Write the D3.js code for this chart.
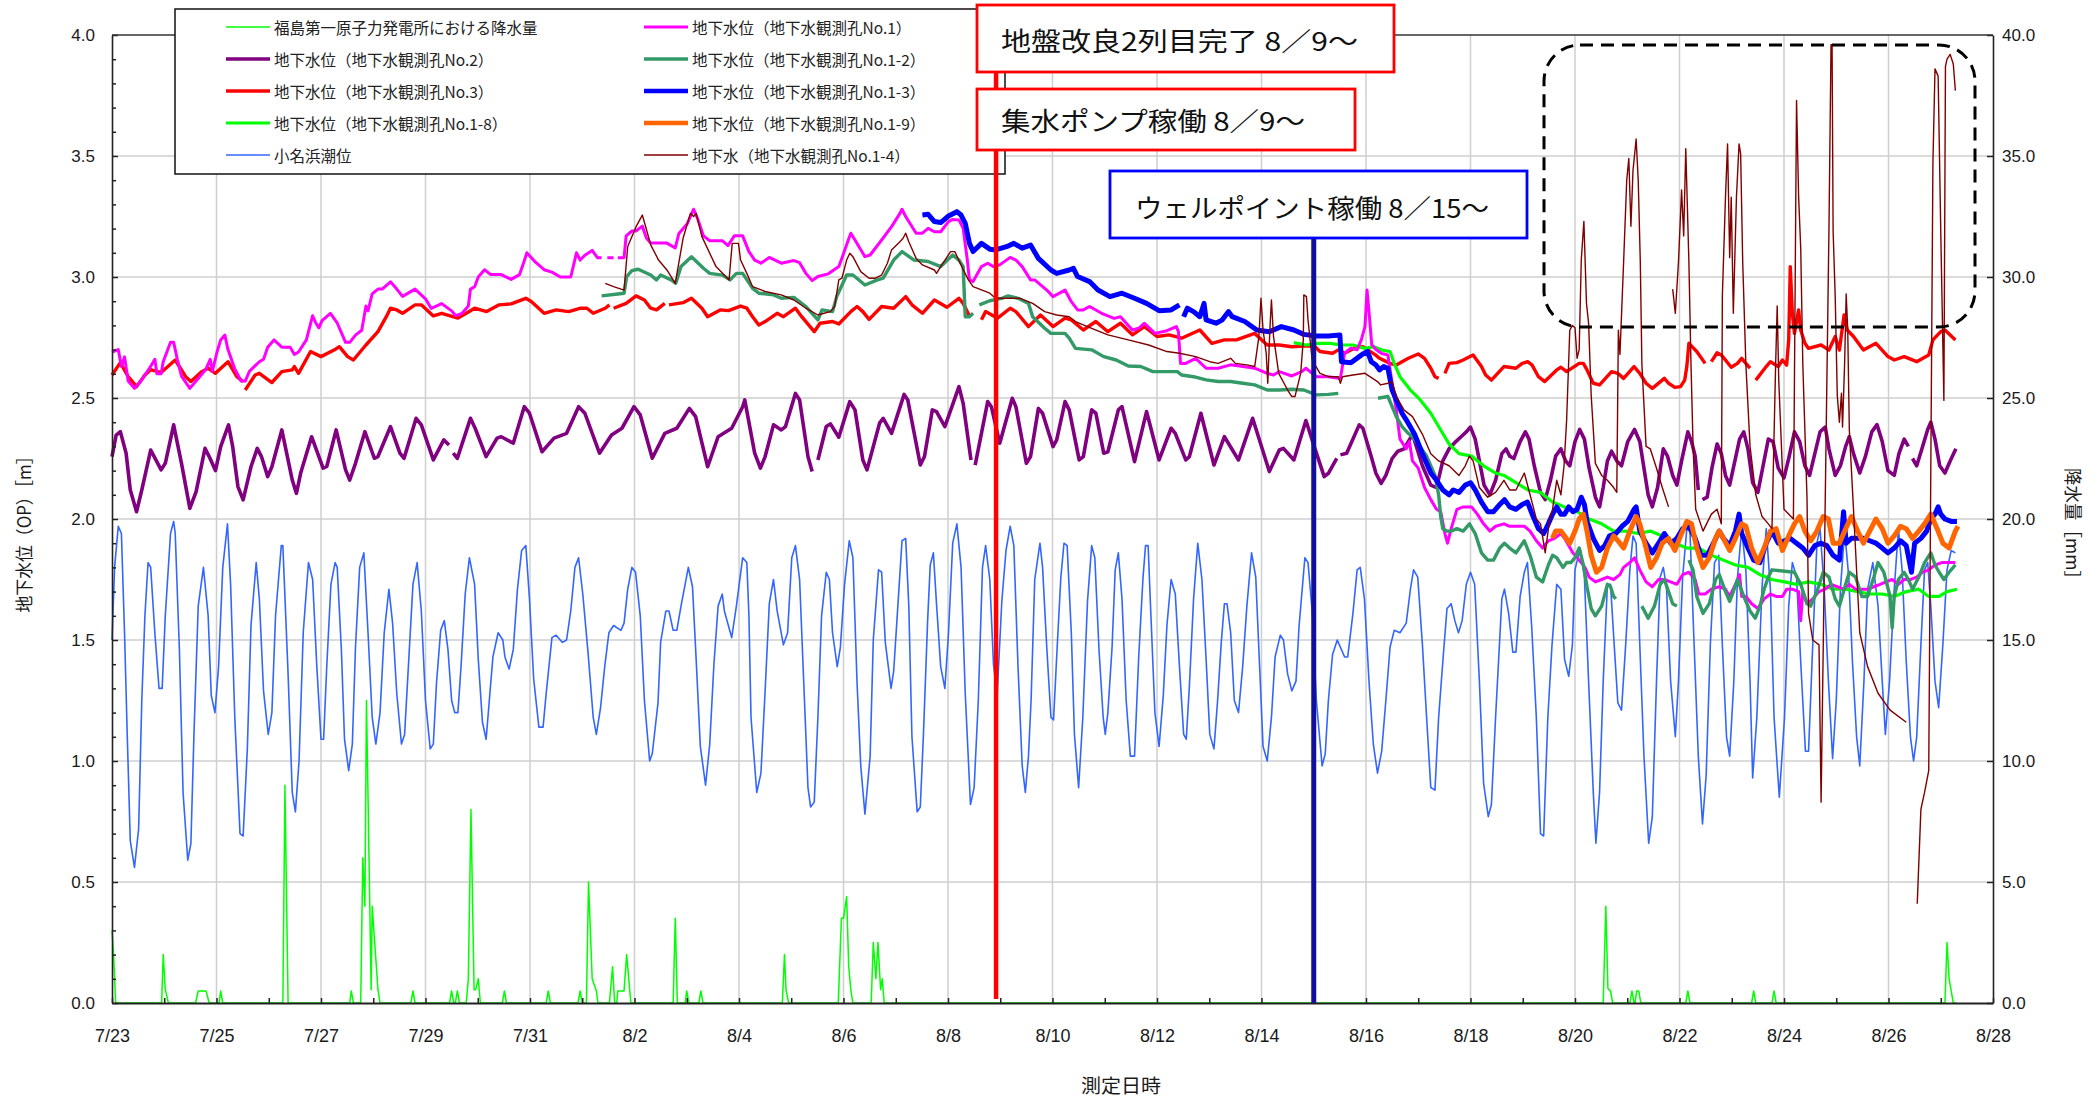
<!DOCTYPE html>
<html><head><meta charset="utf-8">
<script src="https://cdn.jsdelivr.net/npm/d3@7"></script>
<style>body{margin:0;background:#fff;}svg{display:block;}</style>
</head><body>
<svg id="chart" width="2098" height="1097"></svg>
<script>
// ---- categories / ticks ----
const startDay = [2013, 6, 23];
const endDay = [2013, 7, 28];
const xTickLabels = ["7/23","7/25","7/27","7/29","7/31","8/2","8/4","8/6","8/8","8/10","8/12","8/14","8/16","8/18","8/20","8/22","8/24","8/26","8/28"];
const yLeftTicks = [0,0.5,1.0,1.5,2.0,2.5,3.0,3.5,4.0];
const yRightTicks = [0,5,10,15,20,25,30,35,40];
const legendLabels = ["福島第一原子力発電所における降水量","地下水位（地下水観測孔No.2）","地下水位（地下水観測孔No.3）","地下水位（地下水観測孔No.1-8）","小名浜潮位","地下水位（地下水観測孔No.1）","地下水位（地下水観測孔No.1-2）","地下水位（地下水観測孔No.1-3）","地下水位（地下水観測孔No.1-9）","地下水（地下水観測孔No.1-4）"];
const noteTexts = ["地盤改良2列目完了 8／9～","集水ポンプ稼働 8／9～","ウェルポイント稼働 8／15～"];
const noteDays = [16.92, 16.92, 23];
const axisTitles = ["地下水位（OP）［m］","降水量［mm］","測定日時"];

// ---- series values: [days since 7/23 0:00, value] ----
const rainfall = [[0,3.0],[0.03,2.0],[0.07,0],[0.95,0],[0.98,2.0],[1.02,0.55],[1.08,0],[1.60,0],[1.65,0.5],[1.80,0.5],[1.86,0],[2.05,0],[2.08,0.5],[2.12,0],[3.27,0],[3.31,9.0],[3.37,0],[4.55,0],[4.58,0.5],[4.62,0],[4.76,0],[4.80,6.0],[4.84,4.0],[4.87,12.5],[4.96,0.55],[4.98,4.0],[5.09,0.55],[5.13,0],[5.72,0],[5.76,0.5],[5.80,0],[6.46,0],[6.50,0.5],[6.54,0],[6.57,0],[6.61,0.5],[6.65,0],[6.78,0],[6.82,1.0],[6.87,8.0],[6.93,0.55],[6.96,0.55],[7.01,1.0],[7.05,0],[7.47,0],[7.51,0.5],[7.55,0],[8.31,0],[8.35,0.5],[8.39,0],[8.92,0],[8.96,0.5],[9.00,0],[9.08,0],[9.12,5.0],[9.19,1.0],[9.27,0.5],[9.30,0],[9.52,0],[9.58,1.5],[9.62,0],[9.66,0],[9.68,0.5],[9.80,0.5],[9.85,2.0],[9.93,0],[10.74,0],[10.78,3.5],[10.82,0],[10.97,0],[11.0,0.5],[11.04,0],[11.23,0],[11.27,0.5],[11.31,0],[12.83,0],[12.87,2.0],[12.90,0.55],[12.95,0],[13.90,0],[13.96,3.5],[14.0,3.5],[14.06,4.4],[14.10,1.5],[14.14,0.55],[14.18,0],[14.53,0],[14.57,2.5],[14.62,1.0],[14.66,2.5],[14.71,0.55],[14.74,1.0],[14.78,0],[28.54,0],[28.59,4.0],[28.63,0.6],[28.68,0.5],[28.72,0],[29.05,0],[29.09,0.5],[29.13,0],[29.15,0],[29.18,0.5],[29.22,0.5],[29.26,0],[30.12,0],[30.16,0.5],[30.20,0],[31.38,0],[31.42,0.5],[31.46,0],[31.77,0],[31.81,0.5],[31.85,0],[35.08,0],[35.12,2.5],[35.16,1.0],[35.20,0.5],[35.24,0],[35.3,0]];

const tideLevel = [[0,1.50],[0.05,1.80],[0.12,1.97],[0.18,1.94],[0.24,1.53],[0.29,1.12],[0.35,0.67],[0.43,0.56],[0.51,0.72],[0.57,1.25],[0.63,1.60],[0.69,1.82],[0.74,1.80],[0.82,1.53],[0.90,1.30],[0.96,1.30],[1.02,1.60],[1.12,1.94],[1.18,1.99],[1.21,1.94],[1.29,1.46],[1.36,0.87],[1.45,0.59],[1.51,0.66],[1.57,1.12],[1.65,1.64],[1.75,1.80],[1.84,1.60],[1.90,1.27],[1.97,1.20],[2.04,1.39],[2.12,1.80],[2.21,1.98],[2.27,1.73],[2.35,1.18],[2.45,0.70],[2.51,0.69],[2.59,1.05],[2.66,1.56],[2.76,1.82],[2.82,1.67],[2.90,1.29],[2.99,1.11],[3.06,1.20],[3.13,1.60],[3.24,1.89],[3.27,1.89],[3.37,1.36],[3.45,0.87],[3.51,0.79],[3.58,1.00],[3.66,1.53],[3.76,1.82],[3.84,1.75],[3.92,1.39],[4.00,1.09],[4.05,1.09],[4.11,1.39],[4.19,1.73],[4.27,1.82],[4.31,1.80],[4.39,1.46],[4.45,1.09],[4.53,0.96],[4.60,1.07],[4.66,1.47],[4.74,1.80],[4.82,1.86],[4.90,1.53],[4.98,1.18],[5.05,1.07],[5.13,1.20],[5.21,1.53],[5.30,1.71],[5.37,1.57],[5.45,1.28],[5.54,1.07],[5.60,1.11],[5.68,1.42],[5.76,1.73],[5.84,1.82],[5.92,1.62],[6.00,1.25],[6.09,1.05],[6.15,1.07],[6.21,1.32],[6.29,1.54],[6.36,1.58],[6.43,1.46],[6.50,1.25],[6.56,1.20],[6.62,1.20],[6.68,1.39],[6.76,1.69],[6.84,1.84],[6.94,1.73],[7.01,1.42],[7.09,1.16],[7.16,1.09],[7.21,1.22],[7.29,1.43],[7.39,1.53],[7.48,1.50],[7.52,1.43],[7.60,1.38],[7.68,1.46],[7.76,1.71],[7.84,1.87],[7.92,1.89],[7.99,1.67],[8.07,1.34],[8.17,1.14],[8.25,1.14],[8.31,1.28],[8.42,1.51],[8.50,1.52],[8.62,1.49],[8.70,1.50],[8.78,1.62],[8.86,1.80],[8.93,1.84],[9.01,1.69],[9.11,1.45],[9.21,1.18],[9.27,1.11],[9.35,1.22],[9.43,1.39],[9.51,1.53],[9.60,1.56],[9.74,1.54],[9.80,1.57],[9.87,1.71],[9.95,1.80],[10.02,1.78],[10.11,1.60],[10.19,1.25],[10.29,1.00],[10.34,1.03],[10.45,1.24],[10.50,1.49],[10.60,1.62],[10.66,1.62],[10.74,1.54],[10.81,1.54],[10.89,1.64],[11.03,1.80],[11.11,1.72],[11.18,1.42],[11.26,1.06],[11.36,0.90],[11.44,1.07],[11.52,1.40],[11.60,1.64],[11.68,1.69],[11.72,1.62],[11.86,1.51],[11.95,1.64],[12.07,1.84],[12.15,1.82],[12.19,1.60],[12.23,1.18],[12.34,0.87],[12.42,0.95],[12.50,1.29],[12.58,1.65],[12.66,1.75],[12.73,1.62],[12.85,1.48],[12.93,1.53],[13.01,1.84],[13.08,1.89],[13.16,1.75],[13.24,1.32],[13.32,0.89],[13.37,0.81],[13.44,0.83],[13.51,1.18],[13.58,1.60],[13.67,1.78],[13.73,1.75],[13.79,1.53],[13.88,1.39],[13.94,1.47],[14.02,1.73],[14.11,1.91],[14.18,1.84],[14.26,1.32],[14.33,0.98],[14.41,0.78],[14.51,1.02],[14.57,1.50],[14.67,1.79],[14.73,1.78],[14.80,1.49],[14.91,1.30],[14.96,1.37],[15.04,1.64],[15.12,1.91],[15.19,1.92],[15.25,1.64],[15.31,1.10],[15.41,0.79],[15.47,0.81],[15.53,1.11],[15.61,1.58],[15.66,1.81],[15.72,1.86],[15.78,1.65],[15.86,1.39],[15.94,1.30],[16.01,1.53],[16.09,1.90],[16.17,1.98],[16.25,1.80],[16.33,1.28],[16.43,0.82],[16.50,0.89],[16.58,1.25],[16.66,1.80],[16.72,1.89],[16.80,1.75],[16.87,1.40],[16.94,1.27],[17.03,1.66],[17.11,1.87],[17.19,1.97],[17.26,1.89],[17.34,1.39],[17.42,0.98],[17.48,0.87],[17.54,1.02],[17.59,1.25],[17.66,1.75],[17.76,1.90],[17.81,1.80],[17.89,1.47],[17.97,1.18],[18.02,1.17],[18.08,1.43],[18.16,1.76],[18.22,1.90],[18.28,1.89],[18.36,1.53],[18.42,1.11],[18.50,0.89],[18.58,1.18],[18.67,1.66],[18.75,1.89],[18.81,1.84],[18.89,1.46],[18.97,1.18],[19.01,1.11],[19.06,1.20],[19.14,1.47],[19.20,1.79],[19.26,1.86],[19.33,1.67],[19.41,1.25],[19.49,1.02],[19.57,1.02],[19.65,1.43],[19.73,1.75],[19.78,1.89],[19.83,1.89],[19.88,1.62],[19.96,1.20],[20.04,1.06],[20.12,1.27],[20.19,1.56],[20.27,1.75],[20.35,1.69],[20.43,1.39],[20.51,1.11],[20.56,1.09],[20.62,1.31],[20.70,1.67],[20.78,1.90],[20.86,1.75],[20.94,1.42],[21.01,1.11],[21.09,1.05],[21.16,1.25],[21.23,1.49],[21.29,1.65],[21.34,1.65],[21.41,1.53],[21.48,1.25],[21.56,1.20],[21.64,1.39],[21.72,1.64],[21.81,1.86],[21.89,1.76],[21.95,1.46],[22.03,1.06],[22.11,1.00],[22.19,1.18],[22.26,1.43],[22.36,1.52],[22.42,1.50],[22.50,1.36],[22.58,1.29],[22.66,1.33],[22.72,1.56],[22.83,1.84],[22.89,1.82],[22.97,1.62],[23.05,1.25],[23.16,0.98],[23.22,1.03],[23.28,1.25],[23.36,1.44],[23.45,1.50],[23.59,1.43],[23.65,1.43],[23.75,1.61],[23.83,1.79],[23.89,1.80],[23.97,1.67],[24.06,1.32],[24.14,1.07],[24.22,0.95],[24.30,1.04],[24.38,1.25],[24.46,1.47],[24.54,1.54],[24.65,1.53],[24.77,1.57],[24.85,1.71],[24.91,1.79],[24.99,1.76],[25.08,1.48],[25.16,1.18],[25.24,0.89],[25.32,0.88],[25.39,1.18],[25.47,1.41],[25.55,1.63],[25.63,1.65],[25.70,1.58],[25.77,1.53],[25.84,1.58],[25.92,1.73],[26.00,1.78],[26.08,1.73],[26.17,1.33],[26.25,0.91],[26.34,0.77],[26.40,0.82],[26.48,1.18],[26.60,1.67],[26.65,1.71],[26.73,1.61],[26.81,1.45],[26.87,1.45],[26.95,1.68],[27.03,1.78],[27.09,1.82],[27.17,1.56],[27.26,1.18],[27.34,0.70],[27.40,0.69],[27.48,1.18],[27.56,1.48],[27.65,1.73],[27.73,1.71],[27.80,1.42],[27.88,1.35],[27.95,1.48],[28.00,1.79],[28.10,1.88],[28.18,1.76],[28.26,1.33],[28.35,0.87],[28.40,0.66],[28.47,0.87],[28.54,1.33],[28.62,1.73],[28.68,1.73],[28.75,1.48],[28.82,1.24],[28.89,1.21],[28.97,1.48],[29.05,1.79],[29.11,1.93],[29.17,1.90],[29.24,1.48],[29.32,1.02],[29.41,0.66],[29.48,0.77],[29.56,1.33],[29.63,1.76],[29.69,1.80],[29.75,1.72],[29.83,1.33],[29.92,1.10],[29.98,1.33],[30.06,1.76],[30.14,1.96],[30.20,1.95],[30.28,1.48],[30.36,1.02],[30.44,0.74],[30.51,0.94],[30.59,1.48],[30.67,1.82],[30.75,1.85],[30.82,1.48],[30.90,1.10],[30.96,1.02],[31.04,1.33],[31.11,1.76],[31.19,1.96],[31.27,1.79],[31.35,1.33],[31.40,0.93],[31.48,1.18],[31.58,1.72],[31.66,1.96],[31.74,1.71],[31.81,1.18],[31.91,0.85],[32.01,1.18],[32.09,1.64],[32.16,1.82],[32.24,1.76],[32.32,1.41],[32.41,1.04],[32.47,1.04],[32.55,1.48],[32.63,1.90],[32.69,1.96],[32.77,1.71],[32.85,1.33],[32.93,1.01],[33.00,1.25],[33.08,1.71],[33.16,1.95],[33.24,1.76],[33.31,1.41],[33.39,1.10],[33.45,0.98],[33.53,1.33],[33.60,1.71],[33.70,1.82],[33.80,1.64],[33.88,1.33],[33.94,1.11],[34.02,1.33],[34.11,1.71],[34.19,1.96],[34.26,1.79],[34.34,1.41],[34.42,1.10],[34.48,1.00],[34.54,1.10],[34.62,1.48],[34.69,1.79],[34.75,1.82],[34.81,1.64],[34.89,1.33],[34.96,1.22],[35.04,1.48],[35.12,1.79],[35.20,1.87],[35.28,1.86]];

const wellNo2 = [[0,2.258],[0.08,2.347],[0.16,2.361],[0.27,2.272],[0.35,2.12],[0.47,2.03],[0.57,2.12],[0.67,2.216],[0.74,2.285],[0.84,2.244],[0.94,2.203],[1.02,2.23],[1.18,2.389],[1.33,2.23],[1.49,2.044],[1.61,2.113],[1.78,2.292],[1.86,2.258],[1.98,2.2],[2.08,2.299],[2.23,2.389],[2.31,2.299],[2.41,2.134],[2.51,2.079],[2.66,2.216],[2.78,2.292],[2.86,2.258],[2.98,2.175],[3.06,2.216],[3.25,2.368],[3.45,2.161],[3.53,2.106],[3.61,2.189],[3.82,2.34],[4.04,2.21],[4.11,2.217],[4.29,2.368],[4.47,2.203],[4.55,2.161],[4.66,2.23],[4.84,2.361],[5.02,2.251],[5.09,2.258],[5.33,2.382],[5.51,2.272],[5.59,2.251],[5.82,2.416],[5.92,2.389],[6.15,2.244],[6.35,2.327],[6.45,2.306],[6.49,null],[6.53,2.272],[6.61,2.251],[6.86,2.416],[6.95,2.375],[7.16,2.258],[7.37,2.334],[7.45,2.34],[7.68,2.313],[7.89,2.464],[7.99,2.437],[8.23,2.278],[8.46,2.334],[8.70,2.354],[8.93,2.464],[9.05,2.437],[9.33,2.272],[9.56,2.347],[9.76,2.375],[9.99,2.464],[10.11,2.43],[10.34,2.251],[10.58,2.354],[10.81,2.375],[11.05,2.457],[11.17,2.423],[11.40,2.216],[11.60,2.34],[11.86,2.375],[12.07,2.464],[12.11,2.492],[12.30,2.272],[12.41,2.21],[12.50,2.258],[12.66,2.389],[12.81,2.368],[12.89,2.382],[13.08,2.519],[13.16,2.492],[13.32,2.258],[13.40,2.196],[13.45,null],[13.51,2.244],[13.67,2.382],[13.75,2.393],[13.91,2.338],[14.12,2.485],[14.22,2.451],[14.37,2.244],[14.45,2.203],[14.69,2.396],[14.76,2.416],[14.92,2.354],[15.16,2.515],[15.23,2.492],[15.47,2.223],[15.55,2.258],[15.70,2.451],[15.78,2.444],[15.94,2.382],[16.21,2.547],[16.29,2.478],[16.44,2.244],[16.48,null],[16.52,2.223],[16.76,2.485],[16.83,2.464],[16.99,2.313],[17.23,2.499],[17.30,2.464],[17.50,2.23],[17.58,2.258],[17.73,2.457],[17.81,2.437],[18.01,2.299],[18.08,2.327],[18.24,2.485],[18.32,2.451],[18.51,2.244],[18.59,2.258],[18.75,2.451],[18.83,2.437],[18.98,2.272],[19.06,2.278],[19.26,2.451],[19.33,2.464],[19.57,2.237],[19.80,2.444],[20.04,2.244],[20.27,2.375],[20.35,2.354],[20.55,2.244],[20.62,2.258],[20.84,2.437],[21.09,2.223],[21.29,2.34],[21.56,2.244],[21.83,2.416],[22.15,2.196],[22.34,2.285],[22.42,2.292],[22.62,2.244],[22.85,2.407],[23.01,2.299],[23.20,2.175],[23.28,2.189],[23.44,2.251],[23.48,null],[23.51,2.265],[23.63,2.272],[23.87,2.389],[23.94,2.375],[24.10,2.258],[24.19,2.189],[24.29,2.147],[24.38,2.18],[24.50,2.25],[24.61,2.28],[24.73,2.29],[24.81,2.32],[24.89,2.35],[25.08,2.22],[25.24,2.14],[25.35,2.13],[25.47,2.24],[25.59,2.29],[25.72,2.32],[25.82,2.34],[25.92,2.36],[26.00,2.38],[26.09,2.33],[26.17,2.24],[26.26,2.14],[26.37,2.10],[26.48,2.16],[26.60,2.27],[26.68,2.29],[26.75,2.26],[26.83,2.25],[26.95,2.32],[27.05,2.36],[27.12,2.33],[27.22,2.22],[27.34,2.11],[27.43,2.08],[27.53,2.16],[27.63,2.26],[27.73,2.29],[27.82,2.24],[27.90,2.22],[28.00,2.32],[28.09,2.37],[28.18,2.33],[28.27,2.21],[28.39,2.09],[28.47,2.05],[28.54,2.13],[28.62,2.24],[28.70,2.28],[28.80,2.24],[28.89,2.22],[29.01,2.32],[29.14,2.37],[29.24,2.32],[29.32,2.21],[29.40,2.10],[29.48,2.05],[29.58,2.13],[29.69,2.29],[29.77,2.26],[29.87,2.18],[29.95,2.14],[30.04,2.24],[30.16,2.36],[30.23,2.32],[30.30,2.26],[30.36,2.12],[30.40,null],[30.44,2.08],[30.53,2.09],[30.62,2.21],[30.72,2.31],[30.80,2.27],[30.88,2.18],[30.96,2.14],[31.06,2.24],[31.15,2.33],[31.23,2.36],[31.31,2.29],[31.40,2.15],[31.50,2.11],[31.60,2.22],[31.70,2.33],[31.79,2.32],[31.89,2.21],[32.00,2.17],[32.09,2.25],[32.20,2.36],[32.30,2.32],[32.40,2.22],[32.49,2.18],[32.59,2.27],[32.69,2.36],[32.79,2.38],[32.86,2.29],[32.98,2.18],[33.08,2.22],[33.18,2.30],[33.25,2.34],[33.33,2.27],[33.45,2.19],[33.56,2.26],[33.68,2.36],[33.78,2.39],[33.88,2.32],[33.99,2.20],[34.11,2.18],[34.20,2.27],[34.30,2.33],[34.38,2.30],[34.42,null],[34.46,2.25],[34.54,2.22],[34.64,2.29],[34.75,2.37],[34.81,2.40],[34.89,2.33],[34.98,2.22],[35.08,2.19],[35.18,2.24],[35.29,2.29]];

const wellNo3 = [[0,2.595],[0.16,2.646],[0.31,2.588],[0.47,2.547],[0.63,2.595],[0.74,2.617],[0.94,2.605],[1.21,2.657],[1.41,2.588],[1.51,2.568],[1.72,2.609],[1.84,2.623],[1.98,2.602],[2.22,2.65],[2.39,2.588],[2.51,2.568],[2.53,null],[2.55,2.533],[2.74,2.595],[2.82,2.602],[3.06,2.564],[3.25,2.609],[3.45,2.616],[3.49,2.63],[3.57,2.602],[3.80,2.692],[4.00,2.671],[4.26,2.699],[4.35,2.712],[4.51,2.671],[4.62,2.657],[4.86,2.719],[5.09,2.774],[5.25,2.836],[5.33,2.871],[5.45,2.864],[5.56,2.85],[5.80,2.885],[5.92,2.885],[6.15,2.839],[6.31,2.85],[6.62,2.83],[6.78,2.85],[6.94,2.871],[7.17,2.857],[7.41,2.885],[7.64,2.889],[7.92,2.912],[8.03,2.898],[8.27,2.85],[8.50,2.864],[8.74,2.857],[8.97,2.871],[9.09,2.871],[9.21,2.85],[9.44,2.871],[9.52,2.885],[9.56,null],[9.60,2.871],[9.84,2.891],[10.03,2.922],[10.19,2.905],[10.31,2.871],[10.42,2.864],[10.58,2.891],[10.62,null],[10.66,2.885],[10.93,2.894],[11.09,2.912],[11.29,2.871],[11.40,2.836],[11.64,2.864],[11.80,2.861],[12.03,2.88],[12.15,2.871],[12.26,2.836],[12.38,2.802],[12.50,2.816],[12.73,2.85],[12.85,2.836],[13.08,2.871],[13.20,2.836],[13.44,2.774],[13.55,2.809],[13.79,2.816],[13.91,2.806],[14.14,2.857],[14.26,2.878],[14.37,2.857],[14.49,2.825],[14.73,2.878],[14.96,2.871],[15.19,2.919],[15.31,2.885],[15.51,2.85],[15.74,2.905],[15.98,2.875],[16.21,2.912],[16.29,2.891],[16.41,2.839],[16.5,null],[16.64,2.823],[16.72,2.857],[16.95,2.83],[17.19,2.871],[17.30,2.857],[17.54,2.795],[17.77,2.843],[18.01,2.795],[18.24,2.83],[18.36,2.823],[18.59,2.781],[18.83,2.816],[19.06,2.774],[19.30,2.809],[19.53,2.761],[19.76,2.795],[20.00,2.754],[20.23,2.761],[20.47,2.747],[20.82,2.781],[21.05,2.726],[21.29,2.74],[21.52,2.74],[21.87,2.767],[22.11,2.719],[22.34,2.719],[22.58,2.712],[22.81,2.715],[23.01,2.715],[23.12,2.692],[23.36,2.685],[23.47,2.699],[23.59,2.685],[23.83,2.712],[23.94,2.712],[24.18,2.678],[24.26,2.664],[24.46,2.643],[24.58,2.636],[24.81,2.664],[25.00,2.682],[25.12,2.664],[25.24,2.623],[25.32,2.588],[25.39,2.581],[25.45,null],[25.51,2.602],[25.59,2.643],[25.74,2.646],[25.86,2.657],[26.05,2.678],[26.21,2.63],[26.29,2.595],[26.40,2.574],[26.64,2.63],[26.87,2.623],[26.99,2.643],[27.10,2.65],[27.18,2.636],[27.30,2.588],[27.42,2.568],[27.65,2.616],[27.73,2.627],[27.84,2.609],[28.08,2.643],[28.16,2.643],[28.23,2.616],[28.35,2.561],[28.47,2.554],[28.70,2.609],[28.82,2.602],[28.93,2.581],[29.13,2.63],[29.24,2.602],[29.36,2.561],[29.48,2.54],[29.71,2.581],[29.79,2.561],[29.91,2.544],[30.02,2.547],[30.10,2.574],[30.14,2.63],[30.18,2.726],[30.33,2.692],[30.49,2.643],[30.55,null],[30.61,2.65],[30.72,2.687],[30.80,2.678],[30.99,2.627],[31.11,2.643],[31.19,2.664],[31.27,2.643],[31.35,2.623],[31.40,null],[31.46,2.574],[31.66,2.63],[31.74,2.65],[31.89,2.63],[31.97,2.657],[32.05,2.636],[32.09,2.74],[32.12,3.043],[32.16,2.85],[32.20,2.767],[32.28,2.864],[32.32,2.781],[32.40,2.726],[32.47,2.705],[32.71,2.719],[32.86,2.698],[32.98,2.754],[33.06,2.698],[33.15,2.843],[33.21,2.781],[33.33,2.754],[33.52,2.698],[33.76,2.726],[33.99,2.671],[34.11,2.657],[34.30,2.671],[34.54,2.65],[34.77,2.678],[34.85,2.74],[35.00,2.774],[35.08,2.781],[35.28,2.74]];

const wellNo1_8 = [[22.62,2.729],[22.85,2.719],[23.09,2.726],[23.32,2.726],[23.51,2.719],[23.75,2.719],[23.98,2.705],[24.15,2.712],[24.30,2.698],[24.46,2.692],[24.54,2.643],[24.65,2.588],[24.85,2.533],[25.04,2.492],[25.24,2.437],[25.43,2.368],[25.59,2.31],[25.78,2.27],[26.02,2.26],[26.25,2.22],[26.48,2.19],[26.64,2.18],[26.87,2.15],[27.10,2.12],[27.34,2.11],[27.57,2.07],[27.80,2.05],[28.04,2.03],[28.27,2.00],[28.51,1.98],[28.74,1.95],[28.97,1.95],[29.21,1.94],[29.44,1.95],[29.67,1.93],[29.91,1.90],[30.14,1.88],[30.37,1.88],[30.61,1.85],[30.84,1.83],[31.07,1.81],[31.31,1.80],[31.54,1.77],[31.77,1.75],[32.01,1.74],[32.24,1.73],[32.47,1.74],[32.71,1.73],[32.94,1.71],[33.18,1.71],[33.41,1.70],[33.64,1.69],[33.88,1.69],[34.11,1.68],[34.34,1.70],[34.58,1.71],[34.77,1.68],[34.97,1.68],[35.12,1.70],[35.31,1.71]];

const wellNo1 = [[0,2.69],[0.12,2.70],[0.18,2.63],[0.24,2.67],[0.31,2.57],[0.43,2.54],[0.55,2.57],[0.71,2.62],[0.82,2.66],[0.86,2.60],[0.94,2.60],[0.98,2.65],[1.12,2.73],[1.18,2.73],[1.25,2.66],[1.33,2.59],[1.49,2.54],[1.65,2.58],[1.80,2.62],[1.88,2.66],[1.92,2.61],[2.01,2.69],[2.08,2.74],[2.16,2.76],[2.22,2.70],[2.35,2.62],[2.47,2.57],[2.55,2.57],[2.63,2.61],[2.82,2.65],[2.90,2.66],[2.98,2.71],[3.10,2.74],[3.25,2.71],[3.41,2.71],[3.49,2.68],[3.57,2.69],[3.72,2.74],[3.84,2.84],[3.90,2.81],[3.96,2.79],[4.02,2.82],[4.18,2.85],[4.31,2.81],[4.47,2.73],[4.55,2.73],[4.66,2.76],[4.78,2.78],[4.86,2.88],[4.90,2.86],[4.98,2.93],[5.09,2.95],[5.17,2.95],[5.33,2.98],[5.45,2.95],[5.56,2.92],[5.80,2.95],[6.00,2.91],[6.11,2.87],[6.31,2.89],[6.50,2.86],[6.58,2.84],[6.70,2.85],[6.82,2.88],[6.86,2.95],[6.94,2.96],[7.01,3.00],[7.13,3.03],[7.25,3.01],[7.45,3.01],[7.64,2.99],[7.80,3.01],[7.88,3.06],[7.94,3.10],[8.11,3.06],[8.27,3.03],[8.42,3.02],[8.58,3.00],[8.78,3.00],[8.89,3.10],[8.96,3.07],[9.05,3.09],[9.19,3.11],[9.29,3.08],[9.37,3.08],[9.42,null],[9.48,3.08],[9.60,3.08],[9.64,null],[9.68,3.08],[9.80,3.08],[9.84,3.17],[9.95,3.19],[10.03,3.19],[10.15,3.21],[10.23,3.16],[10.31,3.14],[10.62,3.14],[10.78,3.12],[10.85,3.18],[11.01,3.22],[11.13,3.28],[11.21,3.24],[11.32,3.17],[11.44,3.15],[11.68,3.15],[11.79,3.13],[11.91,3.17],[12.07,3.17],[12.19,3.105],[12.30,3.07],[12.42,3.057],[12.58,3.081],[12.81,3.057],[13.05,3.068],[13.16,3.059],[13.28,3.015],[13.40,2.985],[13.51,3.002],[13.71,3.013],[13.91,3.043],[13.98,3.084],[14.08,3.146],[14.14,3.181],[14.22,3.153],[14.41,3.084],[14.51,3.091],[14.73,3.153],[14.92,3.208],[15.08,3.263],[15.12,3.28],[15.19,3.25],[15.39,3.181],[15.51,3.181],[15.62,3.201],[15.74,3.187],[15.86,3.187],[16.01,3.229],[16.09,3.238],[16.21,3.236],[16.29,3.201],[16.37,3.07],[16.41,2.988],[16.48,2.981],[16.64,3.043],[16.76,3.057],[16.87,3.043],[16.99,3.05],[17.19,3.081],[17.30,3.07],[17.42,3.043],[17.58,2.988],[17.66,2.988],[17.89,2.946],[18.01,2.919],[18.24,2.946],[18.36,2.898],[18.48,2.864],[18.59,2.864],[18.71,2.878],[18.94,2.85],[19.18,2.829],[19.30,2.836],[19.53,2.781],[19.65,2.788],[19.76,2.809],[19.96,2.767],[20.19,2.778],[20.37,2.795],[20.41,2.774],[20.45,2.643],[20.55,2.643],[20.74,2.664],[20.94,2.623],[21.17,2.623],[21.41,2.637],[21.64,2.63],[21.87,2.623],[22.11,2.602],[22.23,2.595],[22.34,2.609],[22.58,2.591],[22.77,2.609],[22.85,2.623],[23.05,2.588],[23.28,2.588],[23.51,2.581],[23.59,2.685],[23.71,2.706],[23.83,2.699],[23.91,2.74],[23.98,2.795],[24.02,2.946],[24.06,2.85],[24.11,2.72],[24.19,2.70],[24.30,2.684],[24.42,2.678],[24.50,2.56],[24.58,2.45],[24.65,2.33],[24.77,2.29],[24.83,2.32],[24.89,2.24],[25.0,2.21],[25.12,2.13],[25.24,2.08],[25.35,2.04],[25.43,2.03],[25.51,1.94],[25.56,1.90],[25.63,1.96],[25.74,2.04],[25.86,2.05],[26.02,2.05],[26.13,2.02],[26.25,1.98],[26.37,1.95],[26.48,1.97],[26.64,1.98],[26.75,1.97],[26.87,1.97],[27.03,1.97],[27.14,1.95],[27.26,1.91],[27.38,1.88],[27.49,1.91],[27.61,1.92],[27.73,1.94],[27.80,1.92],[27.88,1.89],[27.96,1.86],[28.08,1.83],[28.19,1.80],[28.27,1.76],[28.39,1.74],[28.51,1.75],[28.62,1.76],[28.74,1.75],[28.86,1.77],[28.93,1.80],[29.05,1.82],[29.14,1.84],[29.24,1.79],[29.36,1.74],[29.48,1.72],[29.60,1.75],[29.71,1.75],[29.83,1.74],[29.95,1.73],[30.06,1.77],[30.18,1.78],[30.30,1.75],[30.37,1.69],[30.49,1.69],[30.61,1.71],[30.76,1.72],[30.88,1.71],[30.96,1.68],[31.07,1.73],[31.15,1.77],[31.19,1.68],[31.27,1.68],[31.38,1.65],[31.50,1.63],[31.62,1.67],[31.74,1.69],[31.85,1.68],[31.97,1.68],[32.05,1.71],[32.16,1.71],[32.28,1.70],[32.32,1.58],[32.36,1.70],[32.44,1.65],[32.55,1.67],[32.67,1.70],[32.79,1.71],[32.90,1.73],[33.02,1.72],[33.14,1.71],[33.25,1.73],[33.37,1.71],[33.49,1.71],[33.60,1.71],[33.72,1.72],[33.84,1.73],[33.95,1.74],[34.07,1.75],[34.19,1.73],[34.30,1.75],[34.42,1.75],[34.54,1.76],[34.65,1.78],[34.77,1.79],[34.89,1.81],[35.02,1.82],[35.12,1.82],[35.28,1.82]];

const wellNo1_2 = [[9.37,2.922],[9.68,2.93],[9.80,2.933],[9.85,3.002],[9.95,3.026],[10.07,3.032],[10.31,3.008],[10.42,2.988],[10.50,3.008],[10.70,2.988],[10.79,2.974],[10.89,3.043],[11.09,3.084],[11.32,3.036],[11.44,3.015],[11.68,3.008],[11.83,2.988],[11.95,3.015],[12.07,3.015],[12.26,2.953],[12.38,2.933],[12.66,2.926],[12.81,2.912],[13.05,2.916],[13.28,2.878],[13.51,2.823],[13.59,2.864],[13.79,2.857],[13.87,2.919],[14.06,3.008],[14.18,3.008],[14.41,2.967],[14.65,2.988],[14.76,2.995],[14.96,3.07],[15.12,3.105],[15.35,3.07],[15.62,3.064],[15.86,3.043],[16.09,3.091],[16.21,3.07],[16.29,3.043],[16.33,2.836],[16.41,2.836],[16.48,2.85],[16.54,null],[16.60,2.885],[16.80,2.902],[17.03,2.912],[17.15,2.922],[17.34,2.912],[17.54,2.891],[17.62,2.836],[17.85,2.788],[17.97,2.767],[18.24,2.767],[18.32,2.747],[18.44,2.705],[18.75,2.699],[18.98,2.671],[19.22,2.657],[19.45,2.632],[19.69,2.63],[19.92,2.609],[20.39,2.609],[20.47,2.595],[20.70,2.588],[20.94,2.575],[21.17,2.568],[21.41,2.568],[21.64,2.561],[21.87,2.554],[22.11,2.533],[22.34,2.533],[22.58,2.536],[22.81,2.533],[23.05,2.513],[23.28,2.515],[23.47,2.519],[23.8,null],[24.23,2.499],[24.42,2.506],[24.50,2.464],[24.58,2.423],[24.69,2.382],[24.81,2.354],[24.89,2.34],[24.96,2.32],[25.16,2.26],[25.32,2.18],[25.39,2.10],[25.43,2.01],[25.47,1.96],[25.55,1.95],[25.63,1.95],[25.74,1.96],[25.86,1.95],[25.98,1.98],[26.09,1.94],[26.21,1.86],[26.33,1.83],[26.44,1.83],[26.56,1.88],[26.65,1.90],[26.75,1.88],[26.87,1.86],[27.03,1.91],[27.14,1.85],[27.26,1.76],[27.38,1.74],[27.49,1.81],[27.57,1.85],[27.65,1.84],[27.77,1.80],[27.84,1.82],[27.92,1.82],[28.00,1.84],[28.08,1.88],[28.16,1.81],[28.23,1.72],[28.31,1.63],[28.39,1.60],[28.51,1.64],[28.62,1.73],[28.68,1.72],[28.74,1.68],[28.78,1.67],[29.0,null],[29.28,1.64],[29.40,1.59],[29.52,1.64],[29.63,1.73],[29.71,1.75],[29.79,1.70],[29.87,1.65],[29.95,1.64],[30.05,null],[30.18,1.83],[30.26,1.79],[30.33,1.68],[30.45,1.61],[30.57,1.65],[30.69,1.75],[30.76,1.77],[30.88,1.70],[30.96,1.66],[31.03,1.70],[31.11,1.75],[31.23,1.68],[31.35,1.62],[31.45,1.59],[31.54,1.64],[31.62,1.71],[31.70,1.76],[31.77,1.79],[32.20,1.78],[32.32,1.73],[32.44,1.65],[32.51,1.64],[32.63,1.70],[32.75,1.78],[32.86,1.76],[32.98,1.67],[33.06,1.64],[33.18,1.73],[33.25,1.78],[33.37,1.76],[33.49,1.68],[33.60,1.68],[33.72,1.76],[33.80,1.82],[33.91,1.78],[34.03,1.68],[34.07,1.55],[34.11,1.68],[34.19,1.75],[34.30,1.78],[34.38,1.75],[34.46,1.71],[34.58,1.76],[34.69,1.82],[34.81,1.86],[34.89,1.81],[34.97,1.78],[35.06,1.75],[35.16,1.78],[35.28,1.81]];

const wellNo1_3 = [[15.51,3.256],[15.62,3.259],[15.74,3.229],[15.86,3.225],[16.01,3.252],[16.17,3.27],[16.25,3.256],[16.33,3.222],[16.41,3.139],[16.48,3.105],[16.64,3.139],[16.80,3.115],[16.91,3.112],[17.15,3.128],[17.26,3.139],[17.42,3.119],[17.58,3.132],[17.73,3.077],[17.97,3.029],[18.08,3.015],[18.32,3.029],[18.40,3.036],[18.48,3.002],[18.71,2.981],[18.87,2.946],[19.10,2.919],[19.33,2.933],[19.57,2.912],[19.80,2.891],[20.04,2.861],[20.27,2.864],[20.43,2.885],[20.47,null],[20.51,2.836],[20.58,2.871],[20.70,2.857],[20.82,2.836],[20.90,2.891],[20.94,2.823],[21.13,2.809],[21.25,2.823],[21.37,2.857],[21.44,2.836],[21.68,2.816],[21.91,2.781],[22.15,2.774],[22.38,2.795],[22.62,2.781],[22.81,2.763],[23.05,2.756],[23.28,2.756],[23.50,2.76],[23.53,2.65],[23.71,2.646],[23.87,2.671],[23.94,2.682],[24.03,2.692],[24.10,2.65],[24.19,2.636],[24.26,2.616],[24.34,2.63],[24.42,2.623],[24.50,2.533],[24.58,2.492],[24.69,2.437],[24.77,2.41],[24.93,2.35],[25.08,2.27],[25.24,2.19],[25.35,2.16],[25.47,2.12],[25.59,2.10],[25.67,2.12],[25.78,2.11],[25.90,2.14],[26.00,2.15],[26.09,2.12],[26.21,2.07],[26.33,2.03],[26.44,2.03],[26.56,2.06],[26.65,2.08],[26.75,2.05],[26.87,2.04],[26.99,2.06],[27.09,2.07],[27.18,2.02],[27.30,1.96],[27.40,1.94],[27.49,1.98],[27.57,2.02],[27.65,2.05],[27.73,2.02],[27.80,2.02],[27.88,2.05],[27.96,2.03],[28.04,2.04],[28.12,2.09],[28.18,2.06],[28.23,1.99],[28.35,1.92],[28.47,1.87],[28.57,1.89],[28.66,1.93],[28.78,1.94],[28.90,1.97],[29.01,1.99],[29.13,2.04],[29.17,2.05],[29.24,1.95],[29.36,1.90],[29.48,1.86],[29.60,1.90],[29.71,1.94],[29.83,1.90],[29.95,1.92],[30.06,1.96],[30.18,1.97],[30.30,1.92],[30.41,1.85],[30.53,1.85],[30.65,1.90],[30.76,1.95],[30.84,1.92],[30.96,1.89],[31.07,1.95],[31.14,2.02],[31.19,1.94],[31.31,1.88],[31.42,1.83],[31.54,1.82],[31.66,1.90],[31.77,1.95],[31.89,1.90],[32.01,1.91],[32.12,1.92],[32.24,1.90],[32.36,1.88],[32.47,1.85],[32.59,1.89],[32.71,1.90],[32.82,1.89],[32.94,1.85],[33.06,1.83],[33.14,2.03],[33.19,1.90],[33.29,1.92],[33.41,1.92],[33.52,1.92],[33.64,1.91],[33.76,1.90],[33.88,1.88],[33.99,1.86],[34.11,1.88],[34.23,1.91],[34.34,1.89],[34.44,1.78],[34.50,1.90],[34.62,1.92],[34.73,1.95],[34.81,2.00],[34.89,2.02],[34.95,2.05],[35.00,2.02],[35.08,2.00],[35.20,1.99],[35.31,1.99]];

const wellNo1_9 = [[27.57,1.92],[27.63,1.95],[27.73,1.95],[27.80,1.93],[27.90,1.90],[28.00,1.95],[28.08,2.00],[28.16,2.02],[28.23,1.95],[28.31,1.85],[28.41,1.78],[28.51,1.80],[28.62,1.88],[28.74,1.93],[28.86,1.90],[28.93,1.88],[29.05,1.95],[29.17,2.01],[29.24,1.98],[29.36,1.88],[29.45,1.80],[29.56,1.84],[29.67,1.90],[29.79,1.92],[29.91,1.87],[30.02,1.93],[30.14,1.99],[30.23,1.98],[30.33,1.88],[30.45,1.80],[30.57,1.84],[30.69,1.92],[30.76,1.95],[30.84,1.92],[30.96,1.87],[31.07,1.92],[31.19,1.98],[31.27,1.97],[31.38,1.88],[31.50,1.82],[31.62,1.88],[31.74,1.95],[31.85,1.96],[31.97,1.87],[32.09,1.93],[32.20,1.98],[32.30,2.01],[32.40,1.95],[32.51,1.91],[32.63,1.95],[32.75,2.01],[32.85,2.00],[32.94,1.90],[33.06,1.90],[33.18,1.96],[33.29,2.01],[33.41,1.95],[33.52,1.90],[33.64,1.95],[33.76,2.00],[33.88,1.96],[33.99,1.90],[34.11,1.93],[34.23,1.97],[34.34,1.96],[34.46,1.92],[34.58,1.95],[34.69,1.98],[34.81,2.02],[34.93,1.96],[35.04,1.90],[35.16,1.88],[35.28,1.95],[35.33,1.97]];

const wellNo1_4 = [[9.44,2.974],[9.60,2.96],[9.80,2.946],[9.87,3.126],[10.03,3.208],[10.15,3.256],[10.31,3.133],[10.46,3.07],[10.62,3.029],[10.78,2.974],[10.93,3.16],[11.07,3.263],[11.13,3.25],[11.18,3.263],[11.29,3.167],[11.56,3.043],[11.81,2.988],[11.87,3.139],[11.99,3.139],[12.03,3.07],[12.15,3.015],[12.26,2.96],[12.50,2.94],[12.81,2.926],[13.05,2.905],[13.28,2.871],[13.51,2.843],[13.63,2.85],[13.75,2.857],[13.83,2.878],[13.91,2.988],[13.97,2.995],[14.06,3.07],[14.12,3.098],[14.18,3.084],[14.33,3.022],[14.49,2.995],[14.61,2.995],[14.73,3.008],[14.84,3.057],[14.92,3.112],[15.08,3.146],[15.14,3.16],[15.19,3.181],[15.25,3.146],[15.39,3.077],[15.51,3.05],[15.74,3.029],[15.78,3.015],[15.86,3.043],[16.05,3.105],[16.13,3.105],[16.31,3.022],[16.39,2.988],[16.48,2.96],[16.80,2.933],[16.91,2.912],[17.15,2.912],[17.38,2.912],[17.62,2.891],[17.85,2.857],[18.08,2.843],[18.32,2.836],[18.44,2.816],[18.75,2.788],[19.06,2.761],[19.45,2.74],[19.84,2.719],[20.19,2.692],[20.43,2.685],[20.74,2.671],[21.01,2.65],[21.17,2.643],[21.41,2.664],[21.50,2.643],[21.72,2.637],[21.87,2.63],[21.95,2.754],[21.99,2.912],[22.03,2.781],[22.09,2.685],[22.12,2.561],[22.16,2.781],[22.19,2.905],[22.23,2.754],[22.33,2.602],[22.50,2.533],[22.58,2.506],[22.64,2.506],[22.75,2.602],[22.80,2.74],[22.81,2.926],[22.86,2.919],[22.89,2.823],[22.97,2.657],[23.12,2.602],[23.28,2.588],[23.47,2.588],[23.51,2.561],[23.55,2.588],[23.75,2.595],[23.98,2.602],[24.22,2.568],[24.28,2.554],[24.42,2.561],[24.50,2.568],[24.58,2.506],[24.73,2.45],[24.89,2.423],[25.08,2.35],[25.24,2.27],[25.39,2.24],[25.59,2.22],[25.78,2.18],[25.90,2.22],[25.98,2.26],[26.05,2.24],[26.17,2.13],[26.33,2.09],[26.48,2.11],[26.64,2.16],[26.75,2.12],[26.87,2.12],[27.03,2.19],[27.14,2.10],[27.26,2.00],[27.34,1.98],[27.43,1.86],[27.51,1.99],[27.57,2.04],[27.65,2.16],[27.73,2.10],[27.79,2.22],[27.84,2.41],[27.90,2.78],[27.95,2.80],[28.00,2.79],[28.04,2.664],[28.08,2.70],[28.12,3.07],[28.17,3.23],[28.22,2.89],[28.26,2.81],[28.31,2.51],[28.39,2.23],[28.51,2.18],[28.62,2.16],[28.74,2.13],[28.80,2.11],[28.83,2.78],[28.86,2.68],[28.93,3.06],[28.99,3.40],[29.03,3.49],[29.07,3.21],[29.11,3.44],[29.17,3.57],[29.21,3.40],[29.25,3.06],[29.28,2.64],[29.36,2.30],[29.44,2.29],[29.56,2.21],[29.67,2.13],[29.79,2.05],[29.83,null],[29.87,2.95],[29.92,2.85],[29.98,3.06],[30.04,3.36],[30.08,3.17],[30.12,3.53],[30.18,3.06],[30.22,2.64],[30.26,2.30],[30.31,2.04],[30.45,1.95],[30.61,2.02],[30.72,2.04],[30.80,1.98],[30.82,2.92],[30.88,3.33],[30.92,3.55],[30.96,3.08],[30.99,3.33],[31.03,2.85],[31.09,3.33],[31.14,3.55],[31.17,3.51],[31.21,3.06],[31.27,2.64],[31.35,2.30],[31.46,2.10],[31.58,2.01],[31.70,1.98],[31.77,1.96],[31.84,2.64],[31.87,2.88],[31.90,2.57],[32.00,2.04],[32.18,2.00],[32.24,3.73],[32.28,3.33],[32.32,3.12],[32.36,2.64],[32.44,2.09],[32.47,1.61],[32.55,1.50],[32.67,1.48],[32.71,0.83],[32.86,3.19],[32.90,3.96],[32.92,3.96],[32.94,3.19],[32.98,2.92],[33.02,2.51],[33.06,2.40],[33.10,2.52],[33.12,2.38],[33.16,2.64],[33.19,2.93],[33.22,2.78],[33.25,2.37],[33.33,2.04],[33.45,1.53],[33.60,1.39],[33.80,1.28],[34.03,1.21],[34.34,1.16],[34.45,null],[34.55,0.41],[34.62,0.80],[34.69,0.87],[34.77,0.96],[34.85,3.47],[34.89,3.86],[34.95,3.83],[35.00,3.19],[35.06,2.49],[35.09,3.87],[35.12,3.90],[35.18,3.92],[35.24,3.88],[35.28,3.77]];

// ---- build ----
const plotL = 112, plotR = 1993, plotT = 35, plotB = 1003;
const svg = d3.select("#chart");
const t0 = new Date(startDay[0], startDay[1], startDay[2]);
const t1 = new Date(endDay[0], endDay[1], endDay[2]);
const dayToDate = d => new Date(t0.getTime() + d * 86400000);
const x = d3.scaleTime().domain([t0, t1]).range([plotL, plotR]);
const y = d3.scaleLinear().domain([0, 4]).range([plotB, plotT]);
const yR = d3.scaleLinear().domain([0, 40]).range([plotB, plotT]);
const numFont = "'Liberation Sans', Arial, sans-serif";
const jpFont = "'Noto Sans CJK JP', 'Noto Sans', sans-serif";

// gridlines
const grid = svg.append("g").attr("stroke", "#cfcfcf").attr("stroke-width", 1.5);
yLeftTicks.filter(v => v > 0 && v < 4).forEach(v => {
  grid.append("line").attr("x1", plotL).attr("x2", plotR).attr("y1", y(v)).attr("y2", y(v));
});
const allDays = d3.timeDay.range(t0, d3.timeDay.offset(t1, 1));
const labelDays = allDays.filter((d, i) => i % 2 === 0);
labelDays.slice(1, -1).forEach(d => {
  grid.append("line").attr("x1", x(d)).attr("x2", x(d)).attr("y1", plotT).attr("y2", plotB);
});

// series
const seriesDefs = [
  {data: rainfall, color: "#00FF00", width: 1.5, scale: yR},
  {data: tideLevel, color: "#3366FF", width: 1.6, scale: y},
  {data: wellNo2, color: "#800080", width: 3.6, scale: y},
  {data: wellNo3, color: "#FF0000", width: 3.4, scale: y},
  {data: wellNo1_8, color: "#00FF00", width: 3.2, scale: y},
  {data: wellNo1, color: "#FF00FF", width: 3.0, scale: y},
  {data: wellNo1_2, color: "#339966", width: 3.4, scale: y},
  {data: wellNo1_3, color: "#0000FF", width: 5.0, scale: y},
  {data: wellNo1_9, color: "#FF6600", width: 5.0, scale: y},
  {data: wellNo1_4, color: "#800000", width: 1.4, scale: y}
];
const lines = svg.append("g").attr("fill", "none").attr("stroke-linejoin", "round");
seriesDefs.forEach(s => {
  const gen = d3.line().defined(d => d[1] !== null).x(d => x(dayToDate(d[0]))).y(d => s.scale(d[1]));
  lines.append("path").datum(s.data).attr("d", gen).attr("stroke", s.color).attr("stroke-width", s.width);
});

// axes
const axL = svg.append("g").attr("transform", `translate(${plotL},0)`)
  .call(d3.axisLeft(y).tickValues(yLeftTicks).tickSizeInner(-6).tickSizeOuter(0).tickPadding(17).tickFormat(d3.format(".1f")));
const minor = d3.range(1, 40).map(i => i / 10).filter(v => Math.round(v * 10) % 5 !== 0);
svg.append("g").attr("transform", `translate(${plotL},0)`)
  .call(d3.axisLeft(y).tickValues(minor).tickSizeInner(-4).tickSizeOuter(0).tickFormat(""))
  .call(g => g.select(".domain").remove())
  .call(g => g.selectAll("line").attr("stroke", "#222").attr("stroke-width", 1.5));
const axR = svg.append("g").attr("transform", `translate(${plotR},0)`)
  .call(d3.axisRight(yR).tickValues(yRightTicks).tickSizeInner(-6).tickSizeOuter(0).tickPadding(9).tickFormat(d3.format(".1f")));
const axB = svg.append("g").attr("transform", `translate(0,${plotB})`)
  .call(d3.axisBottom(x).tickValues(allDays).tickSizeInner(-5).tickSizeOuter(0).tickPadding(26)
    .tickFormat(d => { const i = labelDays.findIndex(l => +l === +d); return i >= 0 ? xTickLabels[i] : ""; }));
[axL, axR, axB].forEach(a => {
  a.selectAll("text").attr("font-family", numFont).attr("font-size", 17).attr("fill", "#1a1a1a");
  a.selectAll("line").attr("stroke", "#222").attr("stroke-width", 1.5);
  a.select(".domain").attr("stroke", "#222").attr("stroke-width", 1.6);
});
axB.selectAll("text").attr("font-size", 18);
axB.select(".domain").attr("stroke-width", 2.2);
svg.append("line").attr("x1", plotL).attr("x2", plotR).attr("y1", plotT).attr("y2", plotT).attr("stroke", "#333").attr("stroke-width", 1.5);

// axis titles
svg.append("text").attr("transform", "translate(23,530) rotate(-90)").attr("text-anchor", "middle").attr("dominant-baseline", "central")
  .attr("font-family", jpFont).attr("font-size", 18).attr("fill", "#1a1a1a")
  .attr("textLength", 165).attr("lengthAdjust", "spacingAndGlyphs").text(axisTitles[0]);
svg.append("text").attr("transform", "translate(2074,528) rotate(90)").attr("text-anchor", "middle").attr("dominant-baseline", "central")
  .attr("font-family", jpFont).attr("font-size", 18).attr("fill", "#1a1a1a")
  .attr("textLength", 120).attr("lengthAdjust", "spacingAndGlyphs").text(axisTitles[1]);
svg.append("text").attr("x", 1121).attr("y", 1093).attr("text-anchor", "middle")
  .attr("font-family", jpFont).attr("font-size", 19).attr("fill", "#1a1a1a")
  .attr("textLength", 80).attr("lengthAdjust", "spacingAndGlyphs").text(axisTitles[2]);

// dashed rounded box
svg.append("rect").attr("x", 1544).attr("y", 45).attr("width", 431).attr("height", 282).attr("rx", 36).attr("ry", 36)
  .attr("fill", "none").attr("stroke", "#000").attr("stroke-width", 3).attr("stroke-dasharray", "13,8");

// legend
const lg = svg.append("g");
lg.append("rect").attr("x", 175).attr("y", 9).attr("width", 830).attr("height", 165).attr("fill", "#fff").attr("stroke", "#111").attr("stroke-width", 1.5);
const legendOrder = [0, 2, 3, 4, 1, 5, 6, 7, 8, 9];
const rowsY = [27, 59, 91, 123, 155];
legendLabels.forEach((lab, i) => {
  const col = i < 5 ? 0 : 1, row = i % 5;
  const s = seriesDefs[legendOrder[i]];
  const lx = col === 0 ? 226 : 644;
  lg.append("line").attr("x1", lx).attr("x2", lx + 44).attr("y1", rowsY[row]).attr("y2", rowsY[row])
    .attr("stroke", s.color).attr("stroke-width", Math.min(s.width, 4.5));
  lg.append("text").attr("x", lx + 48).attr("y", rowsY[row]).attr("dominant-baseline", "central")
    .attr("font-family", jpFont).attr("font-size", 15.5).attr("fill", "#222").text(lab);
});

// event marker lines
svg.append("line").attr("x1", x(dayToDate(noteDays[0]))).attr("x2", x(dayToDate(noteDays[0]))).attr("y1", 72).attr("y2", 999)
  .attr("stroke", "#FF0000").attr("stroke-width", 4.5);
svg.append("line").attr("x1", x(dayToDate(noteDays[2]))).attr("x2", x(dayToDate(noteDays[2]))).attr("y1", 238).attr("y2", plotB)
  .attr("stroke", "#10109A").attr("stroke-width", 5);

// annotation boxes
const boxes = [
  {x: 977, y: 5, w: 417, h: 67, color: "#FF0000", tx: 1001, ty: 39, tw: 357},
  {x: 977, y: 89, w: 378, h: 61, color: "#FF0000", tx: 1001, ty: 119, tw: 304},
  {x: 1110, y: 171, w: 417, h: 67, color: "#0000FF", tx: 1135, ty: 206, tw: 354}
];
boxes.forEach((b, i) => {
  svg.append("rect").attr("x", b.x).attr("y", b.y).attr("width", b.w).attr("height", b.h)
    .attr("fill", "#fff").attr("stroke", b.color).attr("stroke-width", 2.8);
  svg.append("text").attr("x", b.tx).attr("y", b.ty).attr("dominant-baseline", "central")
    .attr("font-family", jpFont).attr("font-size", 26).attr("fill", "#111")
    .attr("textLength", b.tw).attr("lengthAdjust", "spacingAndGlyphs").text(noteTexts[i]);
});
</script>
</body></html>
